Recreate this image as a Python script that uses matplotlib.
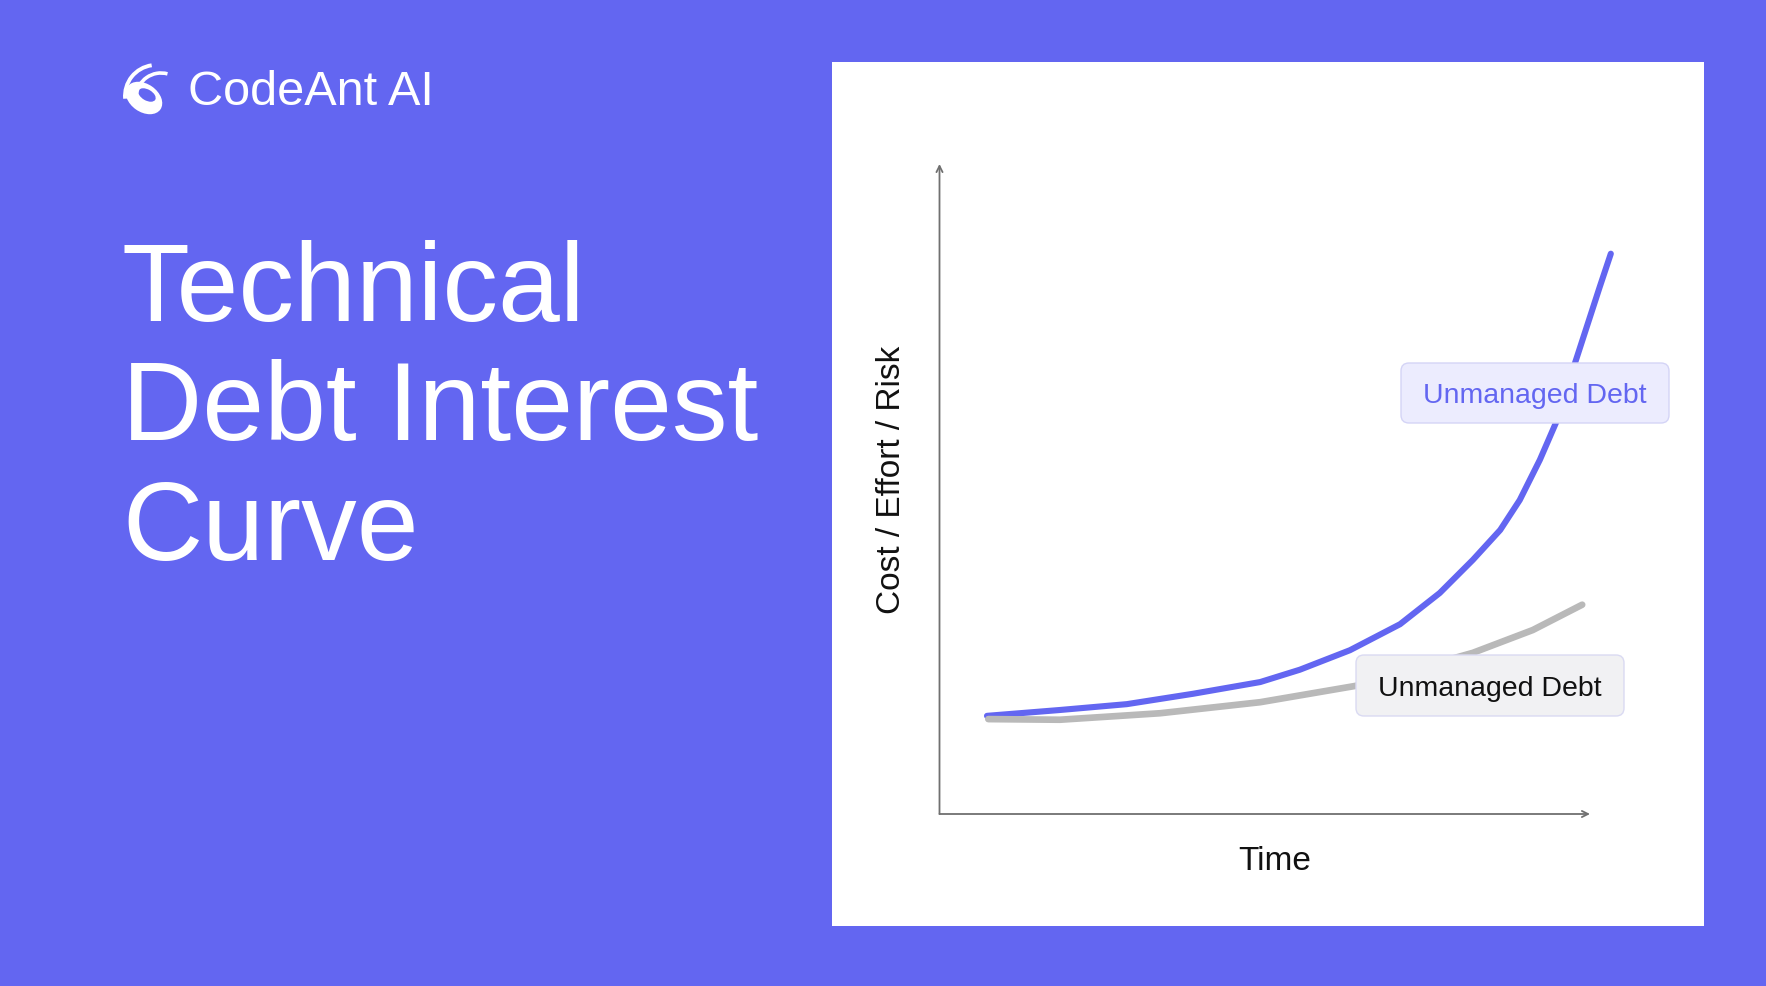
import matplotlib
matplotlib.use("Agg")
import matplotlib.pyplot as plt
from matplotlib.patches import FancyBboxPatch, Ellipse, Arc

BG = "#6366F1"
PURPLE = "#6366F1"
GRAY = "#B9B9B9"

# curves (time 0..10, cost 0..100 along the drawn axes)
unmanaged_t = [0.73, 1.85, 2.88, 3.90, 4.93, 5.54, 6.31, 7.08, 7.69, 8.20, 8.62,
               8.92, 9.23, 9.49, 9.77, 10.15, 10.32]
unmanaged_c = [15.1, 16.0, 16.9, 18.5, 20.3, 22.2, 25.2, 29.2, 34.0, 39.1, 43.7,
               48.3, 54.5, 60.5, 69.4, 81.1, 86.2]
managed_t = [0.75, 1.85, 3.39, 4.93, 6.39, 8.20, 9.12, 9.88]
managed_c = [14.6, 14.5, 15.5, 17.2, 19.7, 24.8, 28.3, 32.2]

labels = ["Unmanaged Debt", "Unmanaged Debt"]
title_lines = ["Technical", "Debt Interest", "Curve"]

W, H = 1766, 986
fig = plt.figure(figsize=(W / 100, H / 100), dpi=100, facecolor=BG)

# white panel = the chart axes; limits chosen so the drawn axes sit at 0..10 / 0..100
px_x, px_y = 65.05, 6.5
x0_px, y0_px = 939.5, 814
pl, pt, pr, pb = 832, 62, 1704, 926
ax = fig.add_axes([pl / W, 1 - pb / H, (pr - pl) / W, (pb - pt) / H])
ax.set_facecolor("white")
ax.set_xlim((pl - x0_px) / px_x, (pr - x0_px) / px_x)
ax.set_ylim((y0_px - pb) / px_y, (y0_px - pt) / px_y)
for s in ax.spines.values():
    s.set_visible(False)
ax.set_xticks([])
ax.set_yticks([])

arrow = dict(arrowstyle="->", color="#707070", lw=1.3, shrinkA=0, shrinkB=0,
             mutation_scale=11)
ax.annotate("", xy=(10, 0), xytext=(0, 0), arrowprops=arrow)
ax.annotate("", xy=(0, 100), xytext=(0, 0), arrowprops=arrow)

ax.plot(unmanaged_t, unmanaged_c, color=PURPLE, lw=4.4, solid_capstyle="round",
        solid_joinstyle="round", zorder=3)
ax.plot(managed_t, managed_c, color=GRAY, lw=4.8, solid_capstyle="round",
        solid_joinstyle="round", zorder=4)

ax.text((1275 - x0_px) / px_x, (y0_px - 862) / px_y, "Time", ha="center",
        va="center", fontsize=24, color="#111111", family="Liberation Sans")
ax.text((891 - x0_px) / px_x, (y0_px - 480) / px_y, "Cost / Effort / Risk",
        rotation=90, ha="center", va="center", fontsize=24, color="#111111",
        family="Liberation Sans")


def label_box(x1, y1, x2, y2, face, edge, text, color):
    bx, by = (x1 - x0_px) / px_x, (y0_px - y2) / px_y
    bw, bh = (x2 - x1) / px_x, (y2 - y1) / px_y
    box = FancyBboxPatch((bx, by), bw, bh,
                         boxstyle="round,pad=0,rounding_size=%f" % (8 / px_x),
                         mutation_aspect=px_x / px_y, fc=face, ec=edge, lw=1.0,
                         zorder=6)
    ax.add_patch(box)
    ax.text(bx + bw / 2, by + bh / 2 - 3 / px_y, text, ha="center", va="center",
            fontsize=20.5, color=color, family="Liberation Sans", zorder=7)


label_box(1401, 363, 1669, 423, "#ECECFE", "#D4D4F6", labels[0], PURPLE)
label_box(1356, 655, 1624, 716, "#F1F1F3", "#DADAF2", labels[1], "#111111")

# title
for line, base in zip(title_lines, [321, 440, 560]):
    fig.text(122 / W, 1 - base / H, line, fontsize=80, color="white",
             va="baseline", ha="left", family="Liberation Sans")

# brand
fig.text(188 / W, 1 - 105 / H, "CodeAnt AI", fontsize=35, color="white",
         va="baseline", ha="left", family="Liberation Sans")

lg = fig.add_axes([110 / W, 1 - 125 / H, 70 / W, 70 / H])
lg.set_xlim(110, 180)
lg.set_ylim(125, 55)
lg.axis("off")
lg.add_patch(Ellipse((144, 98), 40, 28, angle=35, fc="white", ec="none"))
lg.add_patch(Ellipse((147, 95), 19, 11, angle=30, fc=BG, ec="none"))
lg.add_patch(Arc((156, 96), 62, 62, theta1=175, theta2=262, color="white", lw=2.8))
lg.add_patch(Arc((161, 98), 50, 50, theta1=185, theta2=285, color="white", lw=2.6))

fig.savefig("out.png", dpi=100, facecolor=BG)
